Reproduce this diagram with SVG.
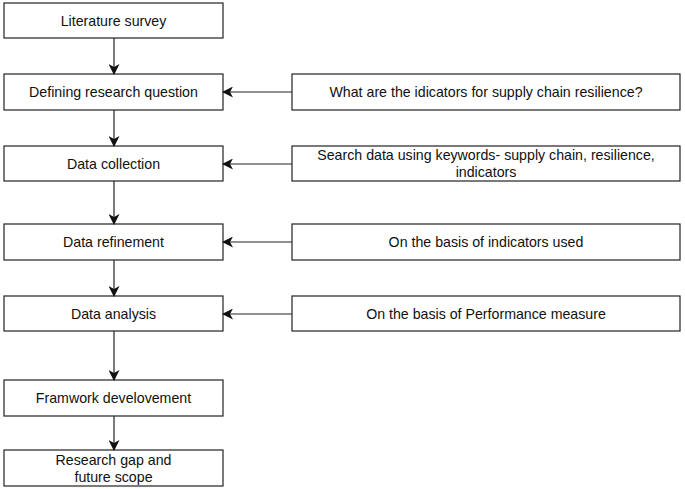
<svg xmlns="http://www.w3.org/2000/svg" width="685" height="489" viewBox="0 0 685 489">
<style>
.box{fill:#fff;stroke:#222;stroke-width:1.2}
.t{font-family:"Liberation Sans",Arial,sans-serif;font-size:14.2px;fill:#111;text-anchor:middle;dominant-baseline:central}
.c{stroke:#222;stroke-width:1.2;fill:none;marker-end:url(#ah)}
</style>
<defs>
<marker id="ah" markerWidth="11" markerHeight="11" refX="10" refY="5.5" orient="auto" markerUnits="userSpaceOnUse">
<path d="M0,0 L11,5.5 L0,11 L3,5.5 Z" fill="#111"/>
</marker>
</defs>
<rect width="685" height="489" fill="#fff"/>
<g id="n1"><rect class="box" x="4" y="3" width="219" height="35"/><text class="t" x="113.5" y="21">Literature survey</text></g>
<g id="n2"><rect class="box" x="4" y="74" width="219" height="36"/><text class="t" x="113.5" y="92">Defining research question</text></g>
<g id="n3"><rect class="box" x="4" y="146" width="219" height="35"/><text class="t" x="113.5" y="164">Data collection</text></g>
<g id="n4"><rect class="box" x="4" y="224" width="219" height="36"/><text class="t" x="113.5" y="242">Data refinement</text></g>
<g id="n5"><rect class="box" x="4" y="296" width="219" height="35"/><text class="t" x="113.5" y="314">Data analysis</text></g>
<g id="n6"><rect class="box" x="4" y="380" width="219" height="36"/><text class="t" x="113.5" y="398">Framwork develovement</text></g>
<g id="n7"><rect class="box" x="4" y="450" width="219" height="36"/><text class="t" x="113.5" y="460">Research gap and</text><text class="t" x="113.5" y="477">future scope</text></g>
<g id="r1"><rect class="box" x="292" y="74" width="388" height="36"/><text class="t" x="486" y="92">What are the idicators for supply chain resilience?</text></g>
<g id="r2"><rect class="box" x="292" y="146" width="388" height="35"/><text class="t" x="486" y="155">Search data using keywords- supply chain, resilience,</text><text class="t" x="486" y="172">indicators</text></g>
<g id="r3"><rect class="box" x="292" y="224" width="388" height="36"/><text class="t" x="486" y="242">On the basis of indicators used</text></g>
<g id="r4"><rect class="box" x="292" y="296" width="388" height="35"/><text class="t" x="486" y="314">On the basis of Performance measure</text></g>
<g id="connectors">
<line class="c" x1="114" y1="38" x2="114" y2="74"/>
<line class="c" x1="114" y1="110" x2="114" y2="146"/>
<line class="c" x1="114" y1="181" x2="114" y2="224"/>
<line class="c" x1="114" y1="260" x2="114" y2="296"/>
<line class="c" x1="114" y1="331" x2="114" y2="380"/>
<line class="c" x1="114" y1="416" x2="114" y2="450"/>
<line class="c" x1="292" y1="92" x2="223" y2="92"/>
<line class="c" x1="292" y1="164" x2="223" y2="164"/>
<line class="c" x1="292" y1="242" x2="223" y2="242"/>
<line class="c" x1="292" y1="314" x2="223" y2="314"/>
</g>
</svg>
